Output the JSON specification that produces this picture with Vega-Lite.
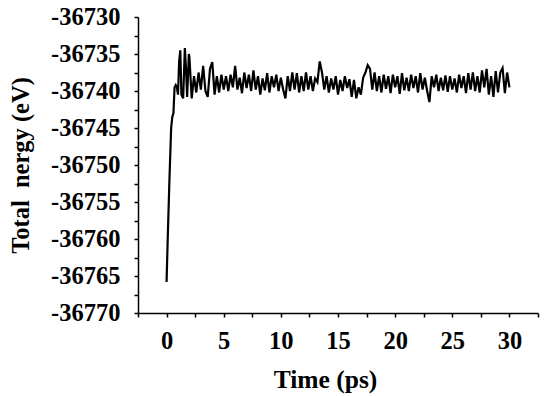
{
  "$schema": "https://vega.github.io/schema/vega-lite/v6.json",
  "width": 400,
  "height": 296,
  "autosize": {"type": "none"},
  "padding": {"left": 138, "top": 17, "right": 12, "bottom": 83},
  "background": "white",
  "config": {
    "view": {"stroke": null},
    "font": "Liberation Serif",
    "axis": {
      "grid": false,
      "domainColor": "black",
      "domainWidth": 1.5,
      "tickColor": "black",
      "tickWidth": 1.5,
      "tickSize": 4,
      "labelColor": "black",
      "labelFont": "Liberation Serif",
      "labelFontWeight": "bold",
      "labelFontSize": 24.5,
      "titleColor": "black",
      "titleFont": "Liberation Serif",
      "titleFontWeight": "bold"
    }
  },
  "data": {
    "values": [
      {"t": 0.0, "e": -36765.8},
      {"t": 0.1, "e": -36760.0},
      {"t": 0.25, "e": -36752.0},
      {"t": 0.4, "e": -36745.0},
      {"t": 0.5, "e": -36743.5},
      {"t": 0.6, "e": -36743.0},
      {"t": 0.7, "e": -36739.5},
      {"t": 0.8, "e": -36739.2},
      {"t": 0.9, "e": -36739.5},
      {"t": 1.0, "e": -36740.5},
      {"t": 1.1, "e": -36736.0},
      {"t": 1.2, "e": -36734.5},
      {"t": 1.3, "e": -36740.5},
      {"t": 1.45, "e": -36741.0},
      {"t": 1.6, "e": -36734.2},
      {"t": 1.7, "e": -36737.0},
      {"t": 1.8, "e": -36740.8},
      {"t": 1.95, "e": -36735.0},
      {"t": 2.0, "e": -36735.5},
      {"t": 2.2, "e": -36741.0},
      {"t": 2.4, "e": -36738.0},
      {"t": 2.6, "e": -36740.2},
      {"t": 2.8, "e": -36737.5},
      {"t": 3.0, "e": -36739.8},
      {"t": 3.2, "e": -36736.6},
      {"t": 3.4, "e": -36740.0},
      {"t": 3.6, "e": -36740.8},
      {"t": 3.8, "e": -36737.0},
      {"t": 4.0, "e": -36736.1},
      {"t": 4.2, "e": -36740.5},
      {"t": 4.4, "e": -36738.0},
      {"t": 4.6, "e": -36740.2},
      {"t": 4.8, "e": -36737.8},
      {"t": 5.0, "e": -36739.8},
      {"t": 5.2, "e": -36738.0},
      {"t": 5.4, "e": -36740.0},
      {"t": 5.6, "e": -36737.8},
      {"t": 5.8, "e": -36739.5},
      {"t": 6.0, "e": -36736.6},
      {"t": 6.2, "e": -36739.8},
      {"t": 6.4, "e": -36738.2},
      {"t": 6.6, "e": -36740.3},
      {"t": 6.8, "e": -36737.5},
      {"t": 7.0, "e": -36739.6},
      {"t": 7.2, "e": -36737.8},
      {"t": 7.4, "e": -36740.0},
      {"t": 7.6, "e": -36737.2},
      {"t": 7.8, "e": -36739.8},
      {"t": 8.0, "e": -36738.0},
      {"t": 8.2, "e": -36740.5},
      {"t": 8.4, "e": -36738.3},
      {"t": 8.6, "e": -36739.9},
      {"t": 8.8, "e": -36737.6},
      {"t": 9.0, "e": -36740.2},
      {"t": 9.2, "e": -36738.0},
      {"t": 9.4, "e": -36739.5},
      {"t": 9.6, "e": -36737.8},
      {"t": 9.8, "e": -36740.0},
      {"t": 10.0, "e": -36738.2},
      {"t": 10.2, "e": -36739.8},
      {"t": 10.4, "e": -36741.0},
      {"t": 10.6, "e": -36738.0},
      {"t": 10.8, "e": -36740.0},
      {"t": 11.0, "e": -36737.5},
      {"t": 11.2, "e": -36739.8},
      {"t": 11.4, "e": -36737.6},
      {"t": 11.6, "e": -36740.2},
      {"t": 11.8, "e": -36738.0},
      {"t": 12.0, "e": -36740.0},
      {"t": 12.2, "e": -36737.5},
      {"t": 12.4, "e": -36739.8},
      {"t": 12.6, "e": -36738.0},
      {"t": 12.8, "e": -36740.0},
      {"t": 13.0, "e": -36738.3},
      {"t": 13.2, "e": -36738.8},
      {"t": 13.4, "e": -36736.0},
      {"t": 13.6, "e": -36737.5},
      {"t": 13.8, "e": -36739.8},
      {"t": 14.0, "e": -36738.0},
      {"t": 14.2, "e": -36740.2},
      {"t": 14.4, "e": -36738.3},
      {"t": 14.6, "e": -36739.8},
      {"t": 14.8, "e": -36738.0},
      {"t": 15.0, "e": -36740.5},
      {"t": 15.2, "e": -36738.5},
      {"t": 15.4, "e": -36740.0},
      {"t": 15.6, "e": -36738.0},
      {"t": 15.8, "e": -36739.6},
      {"t": 16.0, "e": -36738.4},
      {"t": 16.2, "e": -36740.8},
      {"t": 16.4, "e": -36738.5},
      {"t": 16.6, "e": -36741.0},
      {"t": 16.8, "e": -36739.5},
      {"t": 17.0, "e": -36740.5},
      {"t": 17.2, "e": -36738.2},
      {"t": 17.4, "e": -36737.5},
      {"t": 17.6, "e": -36736.5},
      {"t": 17.8, "e": -36737.0},
      {"t": 18.0, "e": -36739.8},
      {"t": 18.2, "e": -36737.5},
      {"t": 18.4, "e": -36740.0},
      {"t": 18.6, "e": -36738.0},
      {"t": 18.8, "e": -36740.2},
      {"t": 19.0, "e": -36737.8},
      {"t": 19.2, "e": -36739.7},
      {"t": 19.4, "e": -36738.0},
      {"t": 19.6, "e": -36740.3},
      {"t": 19.8, "e": -36737.8},
      {"t": 20.0, "e": -36739.5},
      {"t": 20.2, "e": -36738.0},
      {"t": 20.4, "e": -36740.4},
      {"t": 20.6, "e": -36737.6},
      {"t": 20.8, "e": -36739.9},
      {"t": 21.0, "e": -36738.2},
      {"t": 21.2, "e": -36740.0},
      {"t": 21.4, "e": -36737.8},
      {"t": 21.6, "e": -36739.6},
      {"t": 21.8, "e": -36738.0},
      {"t": 22.0, "e": -36740.2},
      {"t": 22.2, "e": -36737.6},
      {"t": 22.4, "e": -36739.8},
      {"t": 22.6, "e": -36738.2},
      {"t": 22.8, "e": -36740.0},
      {"t": 23.0, "e": -36741.5},
      {"t": 23.2, "e": -36738.0},
      {"t": 23.4, "e": -36739.5},
      {"t": 23.6, "e": -36737.8},
      {"t": 23.8, "e": -36740.0},
      {"t": 24.0, "e": -36738.2},
      {"t": 24.2, "e": -36739.9},
      {"t": 24.4, "e": -36737.9},
      {"t": 24.6, "e": -36740.1},
      {"t": 24.8, "e": -36738.0},
      {"t": 25.0, "e": -36739.8},
      {"t": 25.2, "e": -36738.3},
      {"t": 25.4, "e": -36740.2},
      {"t": 25.6, "e": -36737.8},
      {"t": 25.8, "e": -36739.6},
      {"t": 26.0, "e": -36738.0},
      {"t": 26.2, "e": -36740.3},
      {"t": 26.4, "e": -36737.6},
      {"t": 26.6, "e": -36739.8},
      {"t": 26.8, "e": -36737.5},
      {"t": 27.0, "e": -36740.0},
      {"t": 27.2, "e": -36738.0},
      {"t": 27.4, "e": -36740.2},
      {"t": 27.6, "e": -36737.2},
      {"t": 27.8, "e": -36739.5},
      {"t": 28.0, "e": -36737.0},
      {"t": 28.2, "e": -36740.5},
      {"t": 28.4, "e": -36738.0},
      {"t": 28.6, "e": -36740.8},
      {"t": 28.8, "e": -36737.3},
      {"t": 29.0, "e": -36740.2},
      {"t": 29.2, "e": -36737.5},
      {"t": 29.4, "e": -36736.9},
      {"t": 29.6, "e": -36740.3},
      {"t": 29.8, "e": -36737.5},
      {"t": 30.0, "e": -36739.5}
    ]
  },
  "mark": {"type": "line", "color": "black", "strokeWidth": 2.2, "strokeJoin": "miter"},
  "encoding": {
    "x": {
      "field": "t",
      "type": "quantitative",
      "scale": {"domain": [-2.5, 32.5], "nice": false, "zero": false},
      "axis": {
        "title": "Time (ps)",
        "titleFontSize": 25.5,
        "titlePadding": 15,
        "titleX": 187,
        "values": [-2.5, 0, 2.5, 5, 7.5, 10, 12.5, 15, 17.5, 20, 22.5, 25, 27.5, 30, 32.5],
        "labelExpr": "datum.value >= 0 && datum.value % 5 == 0 ? '' + datum.value : ''",
        "labelPadding": 12,
        "labelFlush": false,
        "labelOverlap": false
      }
    },
    "y": {
      "field": "e",
      "type": "quantitative",
      "scale": {"domain": [-36770, -36730], "nice": false, "zero": false},
      "axis": {
        "title": "Total\u00a0\u00a0nergy (eV)",
        "titleFontSize": 24.5,
        "titlePadding": 17,
        "values": [-36770, -36767.5, -36765, -36762.5, -36760, -36757.5, -36755, -36752.5, -36750, -36747.5, -36745, -36742.5, -36740, -36737.5, -36735, -36732.5, -36730],
        "labelExpr": "datum.value % 5 == 0 ? '' + datum.value : ''",
        "labelPadding": 14,
        "labelFlush": false,
        "labelOverlap": false
      }
    }
  }
}
